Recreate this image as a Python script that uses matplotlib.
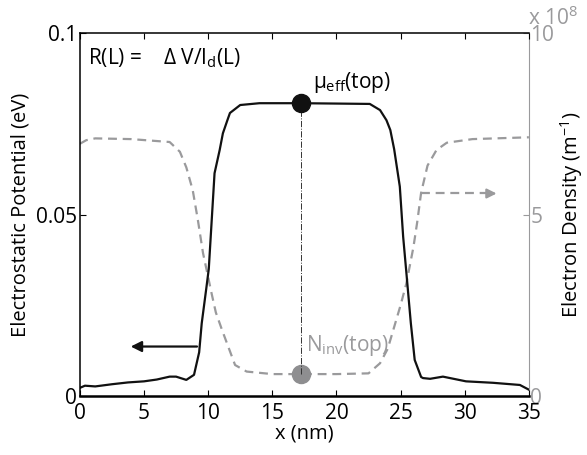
import matplotlib
matplotlib.use("Agg")
import matplotlib.pyplot as plt

plt.rcParams["font.family"] = ["Open Sans", "DejaVu Sans"]
plt.rcParams["mathtext.fontset"] = "custom"
plt.rcParams["mathtext.rm"] = "Open Sans"
plt.rcParams["mathtext.it"] = "Open Sans"

# potential profile (eV) along the channel
x_pot = [0, 0.4, 1.2, 2.5, 3.75, 5, 6, 7, 7.5, 8.3, 8.9, 9.3, 9.5, 9.87, 10.05,
         10.5, 10.9, 11.15, 11.5, 11.7, 12.5, 14, 17.2, 20, 22.6, 23.4, 23.9,
         24.2, 24.5, 24.94, 25.2, 25.45, 25.8, 26.1, 26.6, 26.75, 27.3, 28.3,
         30.1, 32.2, 34.3, 35]
potential = [0.0022, 0.0028, 0.0026, 0.0032, 0.0037, 0.0040, 0.0045, 0.0053,
             0.0053, 0.0044, 0.0058, 0.012, 0.020, 0.030, 0.035, 0.0614,
             0.0678, 0.0724, 0.076, 0.078, 0.0802, 0.0807, 0.0807, 0.0806,
             0.0805, 0.0788, 0.076, 0.0733, 0.068, 0.0577, 0.0439, 0.034,
             0.020, 0.0099, 0.0052, 0.0049, 0.0047, 0.0053, 0.0040, 0.0036,
             0.0030, 0.0017]

# electron density (x 1e8 m^-1)
x_dens = [0, 0.5, 1.2, 4, 7, 7.8, 8.3, 8.8, 9.2, 9.6, 10.26, 10.6, 11.1, 12.1,
          13.0, 15, 20, 22.5, 23.4, 24.0, 24.5, 25.0, 25.45, 26.0, 26.3, 26.6,
          27.1, 27.8, 28.6, 30.6, 35]
density = [6.95, 7.05, 7.1, 7.08, 7.0, 6.73, 6.3, 5.67, 4.85, 3.94, 2.84, 2.3,
           1.8, 0.85, 0.67, 0.6, 0.6, 0.62, 0.9, 1.3, 1.9, 2.5, 3.1, 4.1, 4.8,
           5.6, 6.35, 6.78, 6.98, 7.08, 7.13]

x_top = 17.2
pot_top = 0.0807
dens_top = 0.6

x_ticks = [0, 5, 10, 15, 20, 25, 30, 35]
pot_ticks = [0, 0.05, 0.1]
pot_labels = ["0", "0.05", "0.1"]
dens_ticks = [0, 5, 10]

GRAY = "#9a9a9c"
DOT_GRAY = "#8e8e90"
FS = 15

fig = plt.figure(figsize=(5.87, 4.55), dpi=100)
ax = fig.add_axes([0.136, 0.130, 0.765, 0.797])
ax2 = ax.twinx()
ax.set_zorder(ax2.get_zorder() + 1)
ax.patch.set_visible(False)

# ── density (gray, right axis) ──
ax2.plot(x_dens, density, color=GRAY, linestyle=(0, (4, 2.6)), linewidth=1.6)
ax2.plot([x_top], [dens_top], "o", color=DOT_GRAY, markersize=13, zorder=5)
ax2.set_ylim(0, 10)
ax2.set_yticks(dens_ticks)
ax2.tick_params(axis="y", direction="in", colors=GRAY, labelsize=FS, pad=1,
                length=4)
ax2.spines["right"].set_color(GRAY)
ax2.set_ylabel("Electron Density (m$^{-1}$)", fontsize=14.5, labelpad=3)
ax2.text(0.998, 1.01, "x 10$^8$", transform=ax2.transAxes, color=GRAY,
         fontsize=FS, ha="left", va="bottom")
for side in ("left", "top", "bottom"):
    ax2.spines[side].set_visible(False)

# dashed arrow pointing to the right axis
ax2.plot([26.6, 32.2], [5.58, 5.58], color=GRAY, linestyle=(0, (4, 2.6)),
         linewidth=1.6)
ax2.annotate("", xy=(32.7, 5.58), xytext=(31.6, 5.58),
             arrowprops=dict(arrowstyle="-|>", color=GRAY, lw=1.6,
                             mutation_scale=14))

# ── potential (black, left axis) ──
ax.plot(x_pot, potential, color="#111111", linewidth=1.6)
ax.plot([x_top, x_top], [dens_top / 100, pot_top], color="#333333",
        linestyle="-.", linewidth=0.7)
ax.plot([x_top], [pot_top], "o", color="#111111", markersize=13, zorder=6)
ax.annotate("", xy=(3.75, 0.0136), xytext=(9.35, 0.0136),
            arrowprops=dict(arrowstyle="-|>", color="#111111", lw=1.6,
                            mutation_scale=16))

ax.set_xlim(0, 35)
ax.set_ylim(0, 0.1)
ax.set_xticks(x_ticks)
ax.set_yticks(pot_ticks)
ax.set_yticklabels(pot_labels)
ax.tick_params(axis="both", direction="in", labelsize=FS, length=4,
               top=True)
ax.tick_params(axis="x", pad=5)
ax.tick_params(axis="y", pad=2)
ax.spines["right"].set_visible(False)
for side in ("left", "top", "bottom"):
    ax.spines[side].set_linewidth(1.1)
ax.spines["bottom"].set_linewidth(1.8)
ax.set_xlabel("x (nm)", fontsize=14.5, labelpad=0)
ax.set_ylabel("Electrostatic Potential (eV)", fontsize=14.5, labelpad=4)

ax.text(0.6, 0.093, "R(L) =    $\\Delta$ V/I$_\\mathrm{d}$(L)", fontsize=FS,
        va="center")
ax.text(18.2, 0.0865, "$\\mu_\\mathrm{eff}$(top)", fontsize=FS, va="center")
ax.text(17.6, 0.0140, "N$_\\mathrm{inv}$(top)", fontsize=FS, color=GRAY,
        va="center")

fig.savefig("out.png", dpi=100)
